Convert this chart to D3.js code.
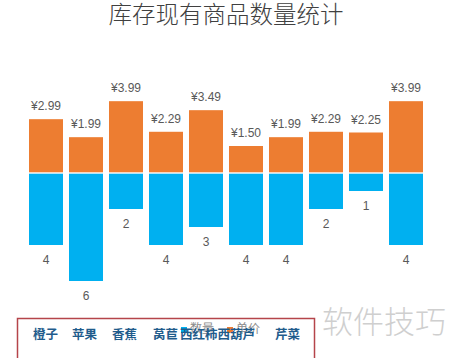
<!DOCTYPE html>
<html>
<head>
<meta charset="utf-8">
<script src="https://cdn.jsdelivr.net/npm/d3@7"></script>
<style>
  body { margin: 0; background: #fff; }
  svg { display: block; }
</style>
</head>
<body>
<div id="chart"></div>
<script>
// chart data
const categories = ["橙子", "苹果", "香蕉", "莴苣", "西红柿", "西葫芦", "芹菜", "黄瓜", "土豆", "洋葱"];
const prices = [2.99, 1.99, 3.99, 2.29, 3.49, 1.50, 1.99, 2.29, 2.25, 3.99];
const quantities = [4, 6, 2, 4, 3, 4, 4, 2, 1, 4];
const seriesNames = ["数量", "单价"];

((() => {
  const width = 450, height = 358;
  const cjk = "'Noto Sans CJK SC', 'Noto Sans', sans-serif";

  const svg = d3.select('#chart')
    .append('svg')
      .attr('width', width)
      .attr('height', height);

  // title
  svg.append('text')
    .attr('x', 226)
    .attr('y', 23)
    .attr('text-anchor', 'middle')
    .style('font-family', cjk)
    .style('font-size', '23.5px')
    .style('font-weight', 300)
    .style('fill', '#404040')
    .text('库存现有商品数量统计');

  // scales: quantity drawn downwards, price upwards, same unit
  const x = d3.scaleBand()
    .domain(categories)
    .range([26, 426])
    .paddingInner(0.15)
    .paddingOuter(0.075);

  const y = d3.scaleLinear()
    .domain([-6, 4])
    .range([281, 101]);

  const rows = categories.map((c, i) => ({ cat: c, price: prices[i], qty: quantities[i] }));

  // price bars (orange)
  svg.selectAll('.price')
    .data(rows)
    .enter()
    .append('rect')
      .attr('class', 'price')
      .attr('x', d => x(d.cat))
      .attr('width', x.bandwidth())
      .attr('y', d => y(d.price))
      .attr('height', d => y(0) - y(d.price) - 0.7)
      .style('fill', '#ED7D31');

  // quantity bars (blue)
  svg.selectAll('.qty')
    .data(rows)
    .enter()
    .append('rect')
      .attr('class', 'qty')
      .attr('x', d => x(d.cat))
      .attr('width', x.bandwidth())
      .attr('y', y(0) + 0.7)
      .attr('height', d => y(-d.qty) - y(0) - 0.7)
      .style('fill', '#00B0F0');

  // value labels
  svg.selectAll('.plabel')
    .data(rows)
    .enter()
    .append('text')
      .attr('x', d => x(d.cat) + x.bandwidth() / 2)
      .attr('y', d => y(d.price) - 9)
      .attr('text-anchor', 'middle')
      .style('font-family', "'Liberation Sans', Arial, sans-serif")
      .style('font-size', '12px')
      .style('fill', '#595959')
      .text(d => '¥' + d.price.toFixed(2));

  svg.selectAll('.qlabel')
    .data(rows)
    .enter()
    .append('text')
      .attr('x', d => x(d.cat) + x.bandwidth() / 2)
      .attr('y', d => y(-d.qty) + 19)
      .attr('text-anchor', 'middle')
      .style('font-family', "'Liberation Sans', Arial, sans-serif")
      .style('font-size', '12px')
      .style('fill', '#595959')
      .text(d => d.qty);

  // legend (sits behind the category text)
  const legendColor = ['#00B0F0', '#ED7D31'];
  const legend = svg.selectAll('.legend')
    .data(seriesNames)
    .enter()
    .append('g')
      .attr('transform', (d, i) => 'translate(' + (181 + i * 46) + ',327)');

  legend.append('rect')
    .attr('width', 6)
    .attr('height', 6)
    .attr('y', 0)
    .style('fill', (d, i) => legendColor[i]);

  legend.append('text')
    .attr('x', 9)
    .attr('y', 6)
    .style('font-family', cjk)
    .style('font-size', '12px')
    .style('fill', '#8c8c8c')
    .text(d => d);

  // red box with category names
  svg.append('rect')
    .attr('x', 17.5)
    .attr('y', 318.5)
    .attr('width', 297)
    .attr('height', 60)
    .style('fill', 'none')
    .style('stroke', '#b5444a')
    .style('stroke-width', 1.5);

  svg.append('clipPath')
    .attr('id', 'boxclip')
    .append('rect')
      .attr('x', 18)
      .attr('y', 319)
      .attr('width', 293)
      .attr('height', 40);

  const gaps = [14, 15, 16, 2, 0, 20, 11, 14, 14, 14];
  let cx = 33;
  const catPos = categories.map((c, i) => {
    const p = cx;
    cx += c.length * 12.5 + gaps[i];
    return p;
  });

  // only the names that start inside the box are visible
  svg.append('g')
    .attr('clip-path', 'url(#boxclip)')
    .selectAll('text')
    .data(categories.filter((d, i) => catPos[i] < 311))
    .enter()
    .append('text')
      .attr('x', (d, i) => catPos[i])
      .attr('y', 339)
      .style('font-family', cjk)
      .style('font-size', '12.5px')
      .style('font-weight', 'bold')
      .style('fill', '#1F5C8C')
      .text(d => d);

  // watermark
  svg.append('text')
    .attr('x', 322)
    .attr('y', 333)
    .style('font-family', cjk)
    .style('font-size', '31px')
    .style('font-weight', 300)
    .style('fill', '#cfcfcf')
    .text('软件技巧');
})());
</script>
</body>
</html>
